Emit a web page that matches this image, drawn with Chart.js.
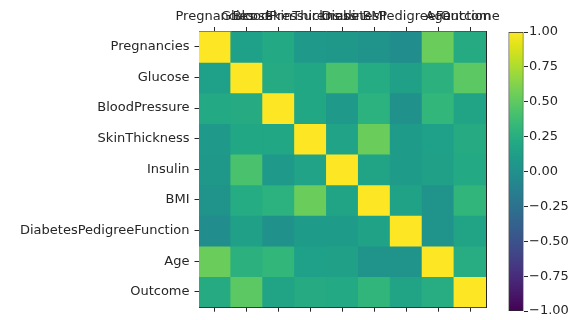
<!DOCTYPE html>
<html>
<head>
<meta charset="utf-8">
<script src="https://cdn.jsdelivr.net/npm/chart.js@4"></script>
<style>
  html, body { margin: 0; padding: 0; background: #fff; }
  #wrap { position: relative; width: 579px; height: 320px; }
  canvas { position: absolute; left: 0; top: 0; }
</style>
</head>
<body>
<div id="wrap">
  <canvas id="heat" width="579" height="320"></canvas>
  <canvas id="cbar" width="579" height="320"></canvas>
</div>
<script>
// ---- data ----
const labels = ['Pregnancies','Glucose','BloodPressure','SkinThickness','Insulin','BMI','DiabetesPedigreeFunction','Age','Outcome'];
const corrPregnancies   = [ 1.00, 0.13, 0.21, 0.08, 0.06, 0.02,-0.03, 0.54, 0.22];
const corrGlucose       = [ 0.13, 1.00, 0.22, 0.19, 0.42, 0.23, 0.14, 0.27, 0.49];
const corrBloodPressure = [ 0.21, 0.22, 1.00, 0.19, 0.07, 0.28, 0.00, 0.32, 0.17];
const corrSkinThickness = [ 0.08, 0.19, 0.19, 1.00, 0.16, 0.54, 0.10, 0.13, 0.22];
const corrInsulin       = [ 0.06, 0.42, 0.07, 0.16, 1.00, 0.17, 0.10, 0.14, 0.21];
const corrBMI           = [ 0.02, 0.23, 0.28, 0.54, 0.17, 1.00, 0.15, 0.03, 0.31];
const corrDPF           = [-0.03, 0.14, 0.00, 0.10, 0.10, 0.15, 1.00, 0.03, 0.17];
const corrAge           = [ 0.54, 0.27, 0.32, 0.13, 0.14, 0.03, 0.03, 1.00, 0.24];
const corrOutcome       = [ 0.22, 0.49, 0.17, 0.22, 0.21, 0.31, 0.17, 0.24, 1.00];
const colorbarTicks = [-1.00, -0.75, -0.50, -0.25, 0.00, 0.25, 0.50, 0.75, 1.00];
const colorbarTickLabels = ['\u22121.00','\u22120.75','\u22120.50','\u22120.25','0.00','0.25','0.50','0.75','1.00'];
const vmin = -1, vmax = 1;

// viridis colormap stops
const viridis = ['#440154','#471365','#482475','#463480','#414487','#3b528b','#355f8d','#2f6c8e','#2a788e','#25848e','#21918c','#1e9c89','#22a884','#2fb47c','#44bf70','#5ec962','#7ad151','#9bd93c','#bddf26','#dfe318','#fde725'];

const rows = [corrPregnancies, corrGlucose, corrBloodPressure, corrSkinThickness, corrInsulin, corrBMI, corrDPF, corrAge, corrOutcome];

function hexToRgb(h) { return [parseInt(h.slice(1,3),16), parseInt(h.slice(3,5),16), parseInt(h.slice(5,7),16)]; }
function cmap(v) {
  let t = (v - vmin) / (vmax - vmin);
  t = Math.max(0, Math.min(1, t));
  const n = viridis.length - 1;
  const p = t * n;
  const i = Math.min(Math.floor(p), n - 1);
  const f = p - i;
  const a = hexToRgb(viridis[i]), b = hexToRgb(viridis[i+1]);
  const c = a.map((x, k) => Math.round(x + (b[k] - x) * f));
  return `rgb(${c[0]},${c[1]},${c[2]})`;
}

const FONT = { family: 'DejaVu Sans', size: 13 };
const INK = '#262626';
const TICKLEN = 4.5;

Chart.defaults.font.family = 'DejaVu Sans';
Chart.defaults.font.size = 13;
Chart.defaults.color = INK;

// ---- heatmap ----
const datasets = rows.map((vals, r) => ({
  label: labels[r],
  data: vals.map(() => [r - 0.5, r + 0.5]),
  backgroundColor: vals.map(v => cmap(v)),
  borderWidth: 0,
  grouped: false,
  barPercentage: 1,
  categoryPercentage: 1,
  inflateAmount: 0.5
}));

new Chart(document.getElementById('heat'), {
  type: 'bar',
  data: { labels: labels, datasets: datasets },
  options: {
    responsive: false,
    animation: false,
    events: [],
    layout: { padding: { left: 0, right: 93, top: 0, bottom: 0 } },
    plugins: { legend: { display: false }, tooltip: { enabled: false } },
    scales: {
      x: {
        type: 'category',
        position: 'top',
        offset: true,
        grid: { offset: false, drawOnChartArea: false, drawTicks: true, tickLength: TICKLEN, color: INK },
        border: { display: true, color: INK, width: 1 },
        ticks: { autoSkip: false, maxRotation: 0, minRotation: 0, padding: 3, color: INK, font: FONT },
        afterFit: s => { s.height = 31.5; }
      },
      x2: {
        type: 'category',
        labels: labels,
        position: 'bottom',
        offset: true,
        grid: { offset: false, drawOnChartArea: false, drawTicks: true, tickLength: TICKLEN, color: INK },
        border: { display: true, color: INK, width: 1 },
        ticks: { display: false },
        afterFit: s => { s.height = 9; }
      },
      y: {
        type: 'linear',
        position: 'left',
        reverse: true,
        min: -0.5,
        max: labels.length - 0.5,
        afterBuildTicks: s => { s.ticks = labels.map((_, i) => ({ value: i })); },
        grid: { drawOnChartArea: false, drawTicks: true, tickLength: TICKLEN, color: INK },
        border: { display: true, color: INK, width: 1 },
        ticks: { autoSkip: false, padding: 5, color: INK, font: FONT, callback: v => labels[v] },
        afterFit: s => { s.width = 199; }
      },
      y2: {
        type: 'linear',
        position: 'right',
        grid: { drawOnChartArea: false, drawTicks: false },
        border: { display: true, color: INK, width: 1 },
        ticks: { display: false },
        afterFit: s => { s.width = 0; }
      }
    }
  }
});

// ---- colorbar ----
new Chart(document.getElementById('cbar'), {
  type: 'bar',
  data: {
    labels: [''],
    datasets: [{
      data: [[vmin, vmax]],
      backgroundColor: (ctx) => {
        const chart = ctx.chart;
        const ys = chart.scales.y;
        if (!ys || !chart.chartArea) return viridis[10];
        const g = chart.ctx.createLinearGradient(0, ys.getPixelForValue(vmin), 0, ys.getPixelForValue(vmax));
        viridis.forEach((c, i) => g.addColorStop(i / (viridis.length - 1), c));
        return g;
      },
      borderColor: INK,
      borderWidth: 1,
      borderSkipped: false,
      barPercentage: 1,
      categoryPercentage: 1
    }]
  },
  options: {
    responsive: false,
    animation: false,
    events: [],
    layout: { padding: { left: 508.5, right: 0, top: 32, bottom: 9 } },
    plugins: { legend: { display: false }, tooltip: { enabled: false } },
    scales: {
      x: { display: false },
      y: {
        type: 'linear',
        position: 'right',
        min: vmin,
        max: vmax,
        afterBuildTicks: s => { s.ticks = colorbarTicks.map(v => ({ value: v })); },
        grid: { drawOnChartArea: false, drawTicks: true, tickLength: TICKLEN, color: INK },
        border: { display: false },
        ticks: {
          padding: 1, color: INK, font: FONT,
          callback: (v) => colorbarTickLabels[colorbarTicks.indexOf(v)]
        },
        afterFit: s => { s.width = 55.5; }
      }
    }
  }
});
</script>
</body>
</html>
